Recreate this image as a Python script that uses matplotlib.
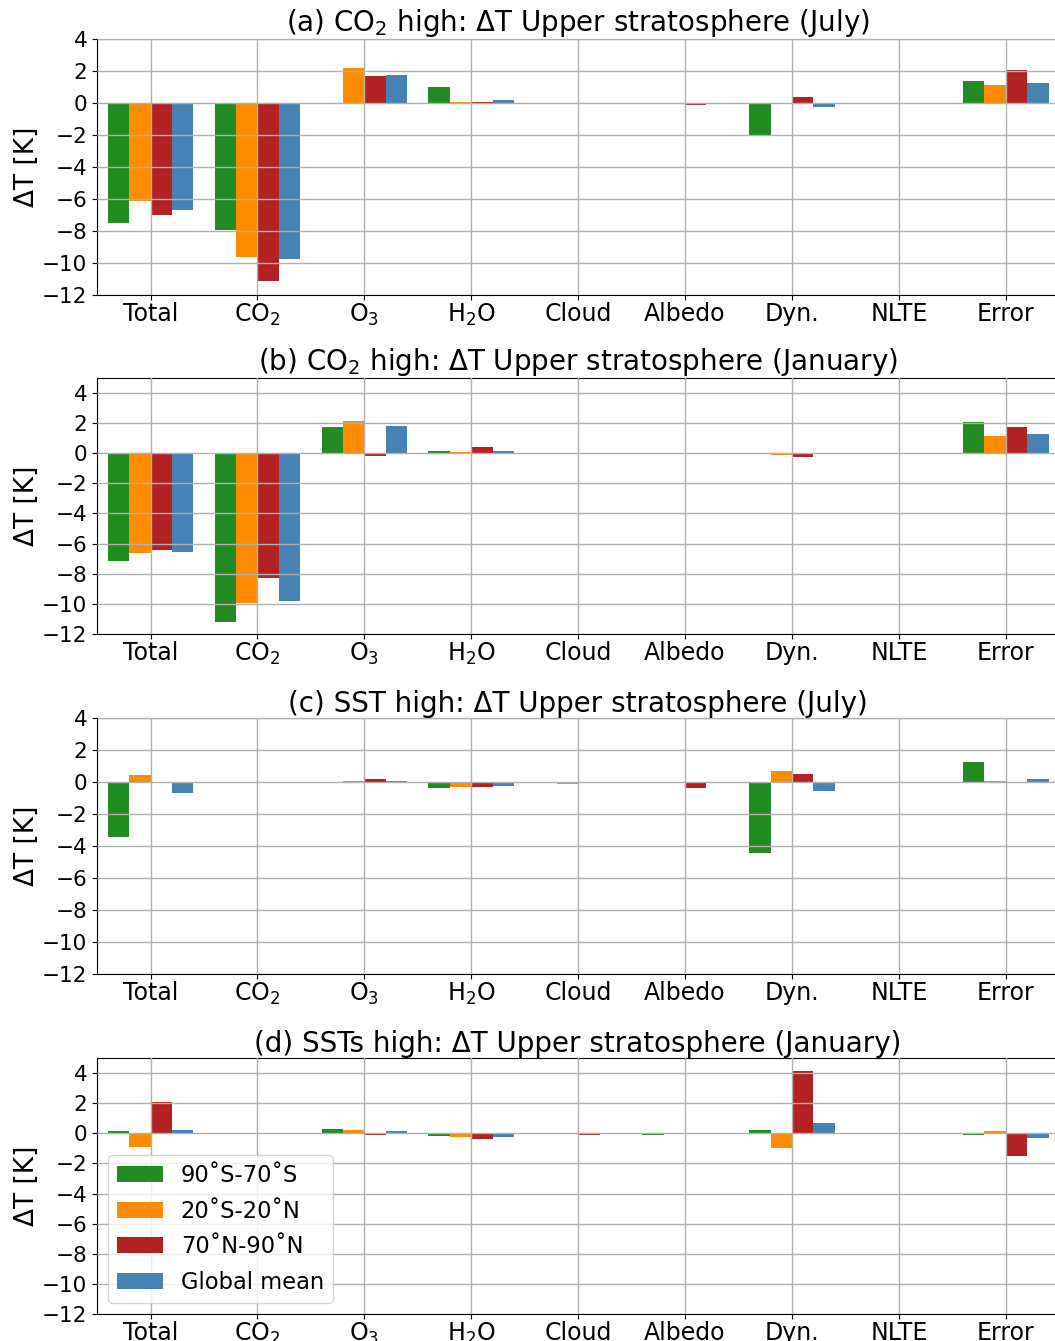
import numpy as np
import matplotlib
matplotlib.use("Agg")
import matplotlib.pyplot as plt

# categories on the x axis
cats = ['Total', 'CO$_2$', 'O$_3$', 'H$_2$O', 'Cloud', 'Albedo', 'Dyn.', 'NLTE', 'Error']
regions = ['90˚S-70˚S', '20˚S-20˚N', '70˚N-90˚N', 'Global mean']
colors = ['forestgreen', 'darkorange', 'firebrick', 'steelblue']

# (a) CO2 high, July
a_sp = [-7.52, -7.96, -0.08, 1.02, 0.0, 0.0, -1.98, 0.0, 1.40]
a_tr = [-6.10, -9.65, 2.20, 0.06, 0.0, 0.0, 0.0, 0.0, 1.15]
a_np = [-6.98, -11.10, 1.71, 0.05, 0.0, -0.16, 0.40, 0.0, 2.08]
a_gm = [-6.67, -9.73, 1.77, 0.20, 0.0, 0.0, -0.23, 0.0, 1.27]

# (b) CO2 high, January
b_sp = [-7.18, -11.18, 1.73, 0.13, 0.0, 0.0, 0.0, 0.0, 2.07]
b_tr = [-6.64, -9.93, 2.13, 0.07, 0.0, 0.0, -0.10, 0.0, 1.13]
b_np = [-6.40, -8.27, -0.18, 0.40, 0.0, 0.04, -0.24, 0.0, 1.73]
b_gm = [-6.58, -9.78, 1.80, 0.13, 0.0, 0.0, 0.0, 0.0, 1.27]

# (c) SST high, July
c_sp = [-3.46, 0.0, 0.0, -0.40, 0.0, 0.0, -4.46, 0.0, 1.27]
c_tr = [0.40, 0.0, 0.08, -0.33, -0.15, 0.0, 0.65, 0.0, 0.08]
c_np = [-0.02, 0.0, 0.20, -0.33, 0.0, -0.40, 0.50, 0.0, -0.08]
c_gm = [-0.67, 0.0, 0.08, -0.27, -0.08, -0.06, -0.58, 0.0, 0.20]

# (d) SSTs high, January
d_sp = [0.16, 0.0, 0.29, -0.18, 0.0, -0.09, 0.22, 0.0, -0.09]
d_tr = [-0.89, 0.0, 0.22, -0.22, 0.0, 0.0, -0.96, 0.0, 0.16]
d_np = [2.09, 0.0, -0.11, -0.36, -0.10, 0.0, 4.16, 0.0, -1.49]
d_gm = [0.22, 0.0, 0.16, -0.22, 0.0, 0.0, 0.69, 0.0, -0.29]

panels = [
    ('(a) CO$_2$ high: ΔT Upper stratosphere (July)', [a_sp, a_tr, a_np, a_gm], 4),
    ('(b) CO$_2$ high: ΔT Upper stratosphere (January)', [b_sp, b_tr, b_np, b_gm], 5),
    ('(c) SST high: ΔT Upper stratosphere (July)', [c_sp, c_tr, c_np, c_gm], 4),
    ('(d) SSTs high: ΔT Upper stratosphere (January)', [d_sp, d_tr, d_np, d_gm], 5),
]

fig = plt.figure(figsize=(10.55, 13.41), dpi=100)
bottoms = [0.780, 0.5272, 0.2737, 0.0201]
h = 0.191
x = np.arange(len(cats))
w = 0.2
offs = [-0.3, -0.1, 0.1, 0.3]

for i, (title, series, ytop) in enumerate(panels):
    ax = fig.add_axes([0.092, bottoms[i], 0.912, h])
    for s, vals in enumerate(series):
        ax.bar(x + offs[s], vals, w, color=colors[s], label=regions[s])
    ax.set_xlim(-0.5, 8.5)
    ax.set_ylim(-12, ytop)
    ax.set_yticks(np.arange(-12, 5, 2))
    ax.set_xticks(x)
    ax.set_xticklabels(cats)
    ax.tick_params(axis='x', labelsize=17, pad=1.5)
    ax.tick_params(axis='y', labelsize=15.5)
    ax.grid(True, color='#b0b0b0', linewidth=1)
    ax.set_axisbelow(False)
    ax.set_ylabel('ΔT [K]', fontsize=19, labelpad=1.5)
    ax.set_title(title, fontsize=20, pad=4)
    if i == 3:
        ax.legend(loc='lower left', fontsize=16.3, labelspacing=0.55)

plt.savefig('out.png', dpi=100)
